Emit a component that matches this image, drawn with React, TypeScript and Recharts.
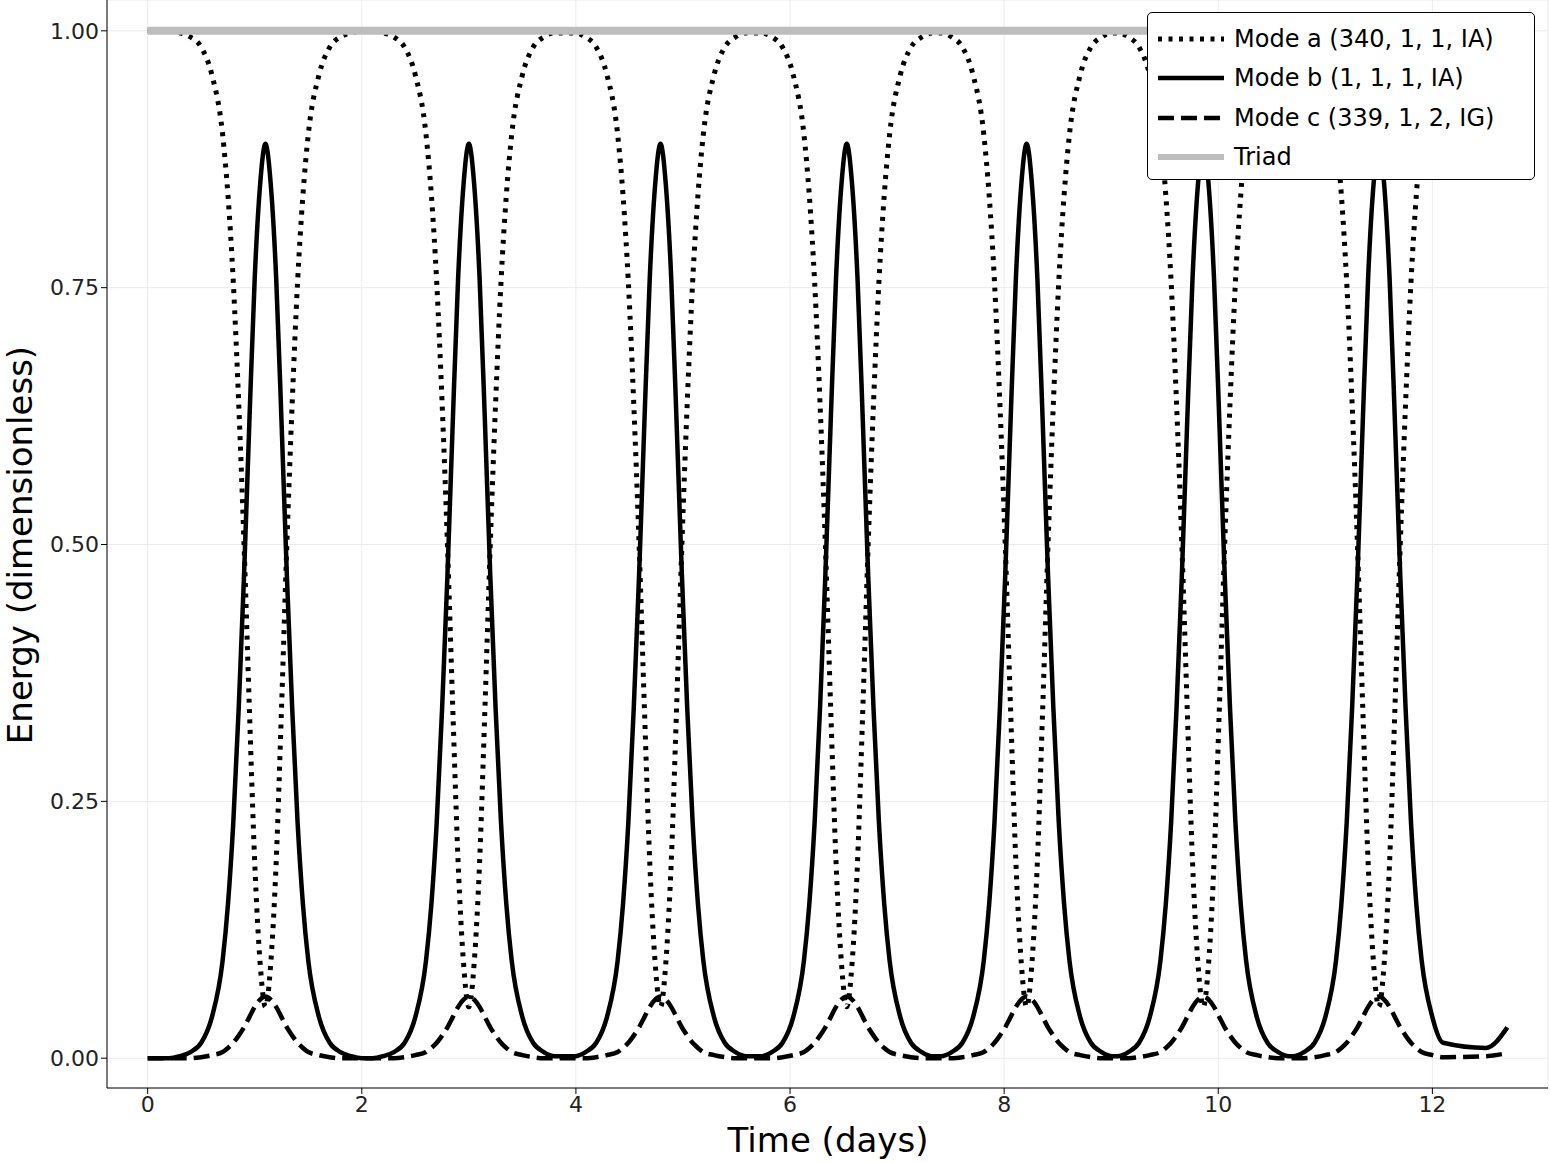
import React from 'react';
import { LineChart, Line, XAxis, YAxis, CartesianGrid } from 'recharts';

const peakTimes = [1.1, 3.0, 4.79, 6.53, 8.21, 9.86, 11.5];
const offsets = [0, 0.05, 0.1, 0.15, 0.2, 0.25, 0.3, 0.35, 0.4, 0.5, 0.6, 0.7, 0.8, 0.9];
const profileB = [0.89, 0.85, 0.76, 0.62, 0.47, 0.34, 0.23, 0.15, 0.095, 0.04, 0.015, 0.006, 0.002, 0.0];
const profileC = [0.06, 0.057, 0.05, 0.04, 0.03, 0.022, 0.015, 0.01, 0.006, 0.003, 0.001, 0.0, 0.0, 0.0];
const profileA = [0.05, 0.093, 0.19, 0.34, 0.5, 0.638, 0.755, 0.84, 0.899, 0.957, 0.984, 0.994, 0.998, 1.0];
const startPoint = { t: 0, a: 1, b: 0, c: 0 };
const endPoints = [
  { t: 12.5, a: 0.988, b: 0.01, c: 0.002 },
  { t: 12.7, a: 0.965, b: 0.03, c: 0.005 },
];
const xTicks = [0, 2, 4, 6, 8, 10, 12];
const yTicks = [0, 0.25, 0.5, 0.75, 1];

const buildData = () => {
  const pts: any[] = [startPoint];
  peakTimes.forEach((p, k) => {
    const prevGap = k > 0 ? p - peakTimes[k - 1] : 99;
    const nextGap = k < peakTimes.length - 1 ? peakTimes[k + 1] - p : 1.3;
    for (let i = offsets.length - 1; i > 0; i--) {
      if (offsets[i] < prevGap / 2 - 0.01 && p - offsets[i] > 0) pts.push({ t: +(p - offsets[i]).toFixed(3), a: profileA[i], b: profileB[i], c: profileC[i] });
    }
    for (let i = 0; i < offsets.length; i++) {
      if (offsets[i] < nextGap / 2 - 0.01) pts.push({ t: +(p + offsets[i]).toFixed(3), a: profileA[i], b: profileB[i], c: profileC[i] });
    }
  });
  endPoints.forEach((e) => pts.push(e));
  pts.sort((x, y) => x.t - y.t);
  return pts.map((d) => ({ ...d, triad: 1 }));
};
const data = buildData();

const font = "'DejaVu Sans', sans-serif";

export default function App() {
  return (
    <div style={{ position: 'absolute', left: 0, top: 0, width: 1550, height: 1163, background: '#fff', fontFamily: font }}>
      <LineChart width={1550} height={1163} data={data} margin={{ top: 0, right: 2, bottom: 0, left: 0 }}>
        <CartesianGrid stroke="#ebebeb" strokeWidth={1} />
        <XAxis dataKey="t" type="number" domain={[-0.38, 13.08]} ticks={xTicks} height={75}
          tick={{ fontSize: 22, fill: '#222', fontFamily: font }} tickLine={{ stroke: '#000' }} tickSize={6}
          axisLine={{ stroke: '#000' }} allowDataOverflow />
        <YAxis type="number" domain={[-0.029, 1.03]} ticks={yTicks} width={107}
          tickFormatter={(v: number) => v.toFixed(2)}
          tick={{ fontSize: 22, fill: '#222', fontFamily: font }} tickLine={{ stroke: '#000' }} tickSize={6}
          axisLine={{ stroke: '#000' }} allowDataOverflow />
        <Line dataKey="a" type="monotone" stroke="#000" strokeWidth={5} strokeDasharray="4 6.5" dot={false} isAnimationActive={false} />
        <Line dataKey="b" type="monotone" stroke="#000" strokeWidth={4.5} dot={false} isAnimationActive={false} />
        <Line dataKey="c" type="monotone" stroke="#000" strokeWidth={4.5} strokeDasharray="16 7" dot={false} isAnimationActive={false} />
        <Line dataKey="triad" type="linear" stroke="#bdbdbd" strokeWidth={8} dot={false} isAnimationActive={false} />
      </LineChart>
      <div style={{ position: 'absolute', left: 0, top: 545, transform: 'translate(-50%,-50%) rotate(-90deg)', marginLeft: 20, fontSize: 34, whiteSpace: 'nowrap' }}>
        Energy (dimensionless)
      </div>
      <div style={{ position: 'absolute', left: 828, top: 1140, transform: 'translate(-50%,-50%)', fontSize: 34, whiteSpace: 'nowrap' }}>
        Time (days)
      </div>
      <div style={{ position: 'absolute', left: 1147, top: 12, width: 388, height: 168, border: '1.5px solid #000', borderRadius: 5, background: '#fff', fontSize: 24, boxSizing: 'border-box', padding: '6px 0 0 10px' }}>
        {[
          { label: 'Mode a (340, 1, 1, IA)', dash: '4 6.5', color: '#000', w: 5 },
          { label: 'Mode b (1, 1, 1, IA)', dash: undefined, color: '#000', w: 4.5 },
          { label: 'Mode c (339, 1, 2, IG)', dash: '16 7', color: '#000', w: 4.5 },
          { label: 'Triad', dash: undefined, color: '#bdbdbd', w: 6 },
        ].map((it) => (
          <div key={it.label} style={{ display: 'flex', alignItems: 'center', height: 39.5 }}>
            <svg width={66} height={10} style={{ marginRight: 10 }}>
              <line x1={0} y1={5} x2={66} y2={5} stroke={it.color} strokeWidth={it.w} strokeDasharray={it.dash} />
            </svg>
            <span>{it.label}</span>
          </div>
        ))}
      </div>
    </div>
  );
}
